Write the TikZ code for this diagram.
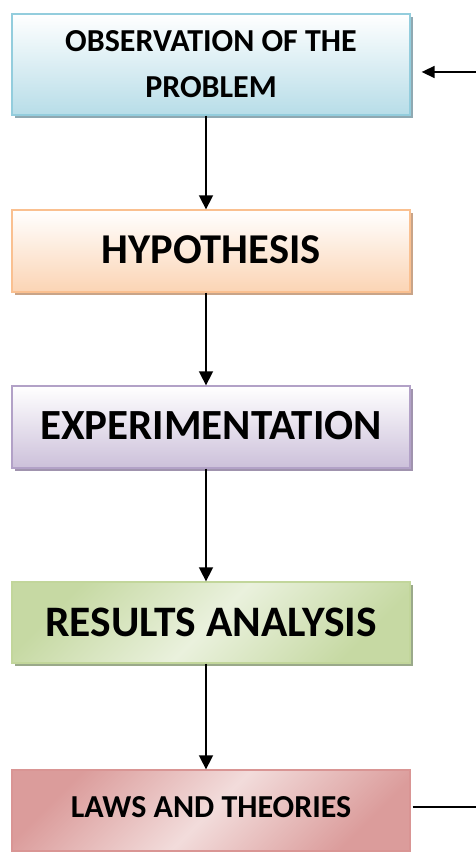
\documentclass[tikz,border=0pt]{standalone}
\usepackage{fontspec}
\setmainfont{Carlito}
\usetikzlibrary{shadows,arrows.meta}
\definecolor{bBorder}{HTML}{93CDDD}
\definecolor{bFill}{HTML}{B7DDE8}
\definecolor{bShadow}{HTML}{8FA9B2}
\definecolor{oBorder}{HTML}{FAC090}
\definecolor{oFill}{HTML}{FBD4B4}
\definecolor{oShadow}{HTML}{C9A488}
\definecolor{pBorder}{HTML}{B2A1C7}
\definecolor{pFill}{HTML}{CCC0DA}
\definecolor{pShadow}{HTML}{A093AE}
\definecolor{gBorder}{HTML}{C2D69B}
\definecolor{gDark}{HTML}{C6D9A3}
\definecolor{gLight}{HTML}{EAF1DD}
\definecolor{gShadow}{HTML}{9AA98A}
\definecolor{rBorder}{HTML}{D99594}
\definecolor{rDark}{HTML}{DB9C9B}
\definecolor{rLight}{HTML}{F2DCDB}
\tikzset{
  stepbox/.style={draw, line width=1.3pt, minimum width=398pt, align=center, inner sep=0pt,
    font=\bfseries},
  flowarrow/.style={line width=1.6pt, -{Triangle[length=14pt,width=14pt]}},
}
\begin{document}
\begin{tikzpicture}[x=1pt,y=1pt]
\useasboundingbox (0,0) rectangle (476,852);
\coordinate (ax) at (206,0);
\node[stepbox, draw=bBorder, top color=white, bottom color=bFill, minimum height=101pt,
  drop shadow={shadow xshift=3pt, shadow yshift=-3pt, fill=bShadow, opacity=1},
  font=\bfseries\fontsize{32}{46}\selectfont] (b1) at (211,787.5) {\raisebox{-2pt}{OBSERVATION OF THE}\\\raisebox{-2pt}{PROBLEM}};
\node[stepbox, draw=oBorder, top color=white, bottom color=oFill, minimum height=82pt,
  drop shadow={shadow xshift=3pt, shadow yshift=-3pt, fill=oShadow, opacity=1},
  font=\bfseries\fontsize{42.5}{50}\selectfont] (b2) at (211,601) {\raisebox{3pt}{HYPOTHESIS}};
\node[stepbox, draw=pBorder, top color=white, bottom color=pFill, minimum height=82pt,
  drop shadow={shadow xshift=3pt, shadow yshift=-3pt, fill=pShadow, opacity=1},
  font=\bfseries\fontsize{43}{50}\selectfont] (b3) at (211,425) {\raisebox{3pt}{EXPERIMENTATION}};
\node[stepbox, draw=gBorder, left color=gDark, right color=gDark, middle color=gLight, shading angle=45, minimum height=81pt,
  drop shadow={shadow xshift=3pt, shadow yshift=-3pt, fill=gShadow, opacity=1},
  font=\bfseries\fontsize{43.5}{50}\selectfont] (b4) at (211,229.5) {RESULTS ANALYSIS};
\node[stepbox, draw=rBorder, left color=rDark, right color=rDark, middle color=rLight, shading angle=45, minimum height=81pt,
  font=\bfseries\fontsize{32}{40}\selectfont] (b5) at (211,41.5) {\raisebox{7pt}{LAWS AND THEORIES}};
\draw[flowarrow] (b1.south -| ax) -- (b2.north -| ax);
\draw[flowarrow] (b2.south -| ax) -- (b3.north -| ax);
\draw[flowarrow] (b3.south -| ax) -- (b4.north -| ax);
\draw[flowarrow] (b4.south -| ax) -- (b5.north -| ax);
\coordinate (t1) at (476,780);
\coordinate (t2) at (476,45);
\draw[line width=1.6pt, -{Triangle[length=13pt,width=12pt]}, shorten >=11pt] (t1) -- (b1.east |- t1);
\draw[line width=1.6pt, shorten <=2pt] (b5.east |- t2) -- (t2);
\end{tikzpicture}
\end{document}
